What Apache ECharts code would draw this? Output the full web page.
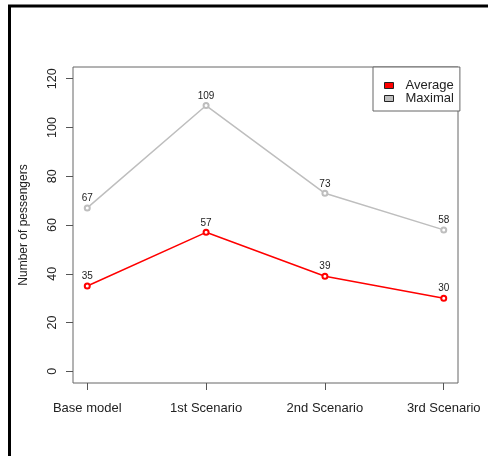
<!DOCTYPE html>
<html>
<head>
<meta charset="utf-8">
<script src="https://cdn.jsdelivr.net/npm/echarts@6/dist/echarts.min.js"></script>
<style>html,body{margin:0;padding:0;background:#fff}#c{width:488px;height:456px}</style>
</head>
<body>
<div id="c"></div>
<script>
const categories = ['Base model', '1st Scenario', '2nd Scenario', '3rd Scenario'];
const averageValues = [35, 57, 39, 30];
const maximalValues = [67, 109, 73, 58];
const yTicks = [0, 20, 40, 60, 80, 100, 120];
const seriesNames = ['Average', 'Maximal'];

const chart = echarts.init(document.getElementById('c'), null, {renderer: 'canvas'});
const toPairs = vals => vals.map((v, i) => [i + 1, v]);
const xPositions = categories.map((c, i) => i + 1);
const font = 'Liberation Sans, Arial, sans-serif';

chart.setOption({
  animation: false,
  backgroundColor: '#fff',
  graphic: [{
    type: 'rect', shape: {x: 9.5, y: 6, width: 700, height: 700},
    style: {fill: 'none', stroke: '#000', lineWidth: 3}, silent: true, z: 100
  }],
  grid: {left: 73, right: 30, top: 67, bottom: 73, show: true, borderColor: '#666', borderWidth: 1, containLabel: false},
  xAxis: {
    type: 'value', min: 0.88, max: 4.12,
    splitLine: {show: false}, axisLine: {show: false, onZero: false},
    axisTick: {show: true, length: 7, lineStyle: {color: '#555'}, customValues: xPositions},
    axisLabel: {customValues: xPositions, margin: 19, fontSize: 13, color: '#222', fontFamily: font,
      formatter: v => categories[Math.round(v) - 1] || ''}
  },
  yAxis: {
    type: 'value', min: -4.8, max: 124.8,
    name: 'Number of pessengers', nameLocation: 'middle', nameRotate: 90, nameGap: 43,
    nameTextStyle: {fontSize: 12, color: '#222', fontFamily: font},
    splitLine: {show: false}, axisLine: {show: false, onZero: false},
    axisTick: {show: true, length: 7, lineStyle: {color: '#555'}, customValues: yTicks},
    axisLabel: {customValues: yTicks, rotate: 90, margin: 14, fontSize: 12.5, color: '#222', fontFamily: font}
  },
  legend: {
    orient: 'vertical', left: 373, top: 67,
    backgroundColor: '#fff', borderColor: '#666', borderWidth: 1,
    padding: [12, 6, 6, 11], itemGap: 0, itemWidth: 9, itemHeight: 6,
    icon: 'rect',
    textStyle: {fontSize: 13, color: '#222', fontFamily: font, lineHeight: 13, padding: [0, 0, 0, 7]},
    data: [
      {name: seriesNames[0], itemStyle: {color: '#ff0000', borderColor: '#222', borderWidth: 1}},
      {name: seriesNames[1], itemStyle: {color: '#bebebe', borderColor: '#222', borderWidth: 1}}
    ]
  },
  series: [
    {
      name: seriesNames[1], type: 'line', data: toPairs(maximalValues),
      symbol: 'emptyCircle', symbolSize: 5,
      lineStyle: {color: '#bebebe', width: 1.5},
      itemStyle: {color: '#bebebe', borderWidth: 1.5},
      label: {show: true, position: 'top', distance: 1, fontSize: 10, color: '#222', fontFamily: font}
    },
    {
      name: seriesNames[0], type: 'line', data: toPairs(averageValues),
      symbol: 'emptyCircle', symbolSize: 5,
      lineStyle: {color: '#ff0000', width: 1.5},
      itemStyle: {color: '#ff0000', borderWidth: 1.5},
      label: {show: true, position: 'top', distance: 1, fontSize: 10, color: '#222', fontFamily: font}
    }
  ]
});
</script>
</body>
</html>
